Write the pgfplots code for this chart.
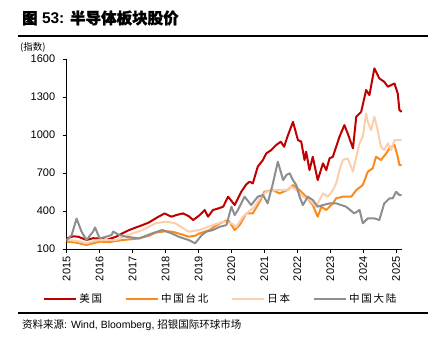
\documentclass[border=0pt]{standalone}
\usepackage{pgfplots}
\pgfplotsset{compat=1.18}
\usepackage{fontspec}
\setmainfont{Liberation Sans}
\newfontfamily\cjk{Noto Sans CJK SC}
\definecolor{cred}{HTML}{C00000}
\definecolor{corange}{HTML}{F98B1E}
\definecolor{cpeach}{HTML}{F9CFAE}
\definecolor{cgray}{HTML}{8E8E8E}
\begin{document}
\begin{tikzpicture}
\path[use as bounding box] (0pt,0pt) rectangle (436pt,351pt);
% title
\node[anchor=west,inner sep=0pt] at (22pt,333pt) {\fontsize{15.5pt}{17pt}\selectfont\bfseries {\cjk\addfontfeatures{FakeBold=1.5}图} 53: {\cjk\addfontfeatures{FakeBold=1.5} 半导体板块股价}};
\draw[line width=1.6pt] (18pt,315pt) -- (428pt,315pt);
\node[anchor=west,inner sep=0pt] at (20pt,304pt) {\fontsize{9.5pt}{11pt}\selectfont\cjk (指数)};
% bottom rule and source
\draw[line width=1.8pt] (18pt,38pt) -- (428pt,38pt);
\node[anchor=west,inner sep=0pt] at (22pt,26pt) {\fontsize{10.5pt}{12pt}\selectfont{\cjk 资料来源}: Wind, Bloomberg, {\cjk 招银国际环球市场}};
\begin{axis}[
  at={(66.7pt,102pt)}, anchor=south west,
  scale only axis, width=335pt, height=190pt,
  xmin=2015, xmax=2025.17, ymin=100, ymax=1600,
  axis x line*=bottom, axis y line*=left,
  axis line style={line width=0.9pt,black},
  xtick={2015,2016,2017,2018,2019,2020,2021,2022,2023,2024,2025},
  ytick={100,400,700,1000,1300,1600},
  tick align=outside, major tick length=4pt,
  tick style={black,line width=0.8pt},
  /pgf/number format/assume math mode=true,
  /pgf/number format/1000 sep={},
  ticklabel style={font=\fontsize{11pt}{12pt}\selectfont},
  xticklabel style={rotate=90,anchor=east},
  yticklabel style={xshift=-4pt},
  clip=false,
  legend columns=4,
  legend style={at={(0.46,-0.263)},anchor=center,draw=none,fill=none,
    font=\fontsize{10.5pt}{12pt}\selectfont\cjk,
    /tikz/every even column/.append style={column sep=21pt}},
  legend image code/.code={\draw[#1] (0pt,0pt) -- (32pt,0pt);},
  every axis plot/.append style={line width=2pt, line join=round},
]
\addplot[cred] coordinates {
(2015.0,184) (2015.2,200) (2015.35,197) (2015.6,171) (2015.8,185) (2016.0,184) (2016.2,171) (2016.5,197) (2016.7,225) (2016.9,250) (2017.1,270) (2017.3,289) (2017.5,310) (2017.7,342) (2017.97,381) (2018.18,355) (2018.33,368) (2018.53,381) (2018.7,360) (2018.84,329) (2019.04,368) (2019.19,408) (2019.29,355) (2019.44,408) (2019.6,420) (2019.75,434) (2019.9,513) (2020.1,447) (2020.2,500) (2020.3,552) (2020.45,610) (2020.55,631) (2020.65,618) (2020.8,750) (2020.95,800) (2021.06,855) (2021.21,881) (2021.36,921) (2021.5,947) (2021.6,907) (2021.7,986) (2021.87,1104) (2022.02,960) (2022.12,947) (2022.22,802) (2022.27,868) (2022.37,723) (2022.47,828) (2022.62,644) (2022.78,776) (2022.88,723) (2022.98,816) (2023.08,828) (2023.18,907) (2023.28,986) (2023.43,1078) (2023.53,1013) (2023.69,895) (2023.79,1144) (2023.94,1183) (2024.09,1355) (2024.19,1315) (2024.34,1526) (2024.49,1447) (2024.64,1420) (2024.75,1381) (2024.95,1407) (2025.05,1328) (2025.1,1197) (2025.17,1183)
};
\addlegendentry{美\,国}
\addplot[corange] coordinates {
(2015.0,158) (2015.3,150) (2015.6,132) (2015.8,145) (2016.0,158) (2016.3,155) (2016.7,171) (2017.0,178) (2017.2,184) (2017.5,205) (2017.7,229) (2018.0,240) (2018.2,237) (2018.5,215) (2018.7,197) (2018.9,205) (2019.04,224) (2019.34,250) (2019.5,280) (2019.65,303) (2019.9,329) (2020.1,250) (2020.25,289) (2020.45,381) (2020.65,381) (2020.86,473) (2021.0,552) (2021.26,565) (2021.46,539) (2021.7,565) (2021.87,605) (2022.07,565) (2022.27,513) (2022.47,447) (2022.62,355) (2022.73,434) (2022.88,408) (2023.08,460) (2023.18,500) (2023.38,513) (2023.64,513) (2023.79,565) (2023.99,605) (2024.14,710) (2024.29,737) (2024.39,828) (2024.54,802) (2024.7,855) (2024.8,895) (2024.95,921) (2025.05,828) (2025.1,763) (2025.17,763)
};
\addlegendentry{中\,国\,台\,北}
\addplot[cpeach] coordinates {
(2015.0,171) (2015.3,165) (2015.6,145) (2015.8,160) (2016.0,171) (2016.5,171) (2017.0,224) (2017.3,250) (2017.7,303) (2018.0,316) (2018.3,303) (2018.5,270) (2018.7,237) (2019.04,250) (2019.44,289) (2019.75,316) (2020.0,303) (2020.15,276) (2020.35,355) (2020.7,434) (2020.9,513) (2021.06,552) (2021.36,565) (2021.67,565) (2021.82,592) (2021.97,565) (2022.17,513) (2022.37,487) (2022.57,434) (2022.78,539) (2022.93,513) (2023.08,565) (2023.18,618) (2023.28,723) (2023.38,802) (2023.53,816) (2023.69,710) (2023.79,828) (2023.89,934) (2023.99,986) (2024.09,1171) (2024.14,1104) (2024.24,1039) (2024.34,1144) (2024.44,1039) (2024.54,907) (2024.64,881) (2024.75,934) (2024.85,881) (2024.95,960) (2025.17,960)
};
\addlegendentry{日\,本}
\addplot[cgray] coordinates {
(2015.0,171) (2015.15,210) (2015.3,340) (2015.45,237) (2015.6,171) (2015.8,237) (2015.86,270) (2016.0,184) (2016.2,197) (2016.36,210) (2016.41,237) (2016.6,210) (2016.8,197) (2017.2,184) (2017.6,224) (2017.9,250) (2018.18,224) (2018.4,197) (2018.7,171) (2018.9,145) (2019.1,210) (2019.24,237) (2019.44,250) (2019.65,276) (2019.85,289) (2020.0,434) (2020.1,368) (2020.2,408) (2020.4,513) (2020.6,447) (2020.8,513) (2020.96,526) (2021.1,460) (2021.26,618) (2021.41,789) (2021.57,644) (2021.67,684) (2021.77,697) (2021.87,644) (2021.97,605) (2022.07,513) (2022.17,447) (2022.32,513) (2022.47,487) (2022.62,434) (2022.78,447) (2022.98,460) (2023.18,460) (2023.48,434) (2023.73,381) (2023.89,408) (2023.99,303) (2024.14,342) (2024.34,342) (2024.49,329) (2024.64,460) (2024.8,500) (2024.9,500) (2025.0,552) (2025.1,526) (2025.17,526)
};
\addlegendentry{中\,国\,大\,陆}
\end{axis}
\end{tikzpicture}
\end{document}
